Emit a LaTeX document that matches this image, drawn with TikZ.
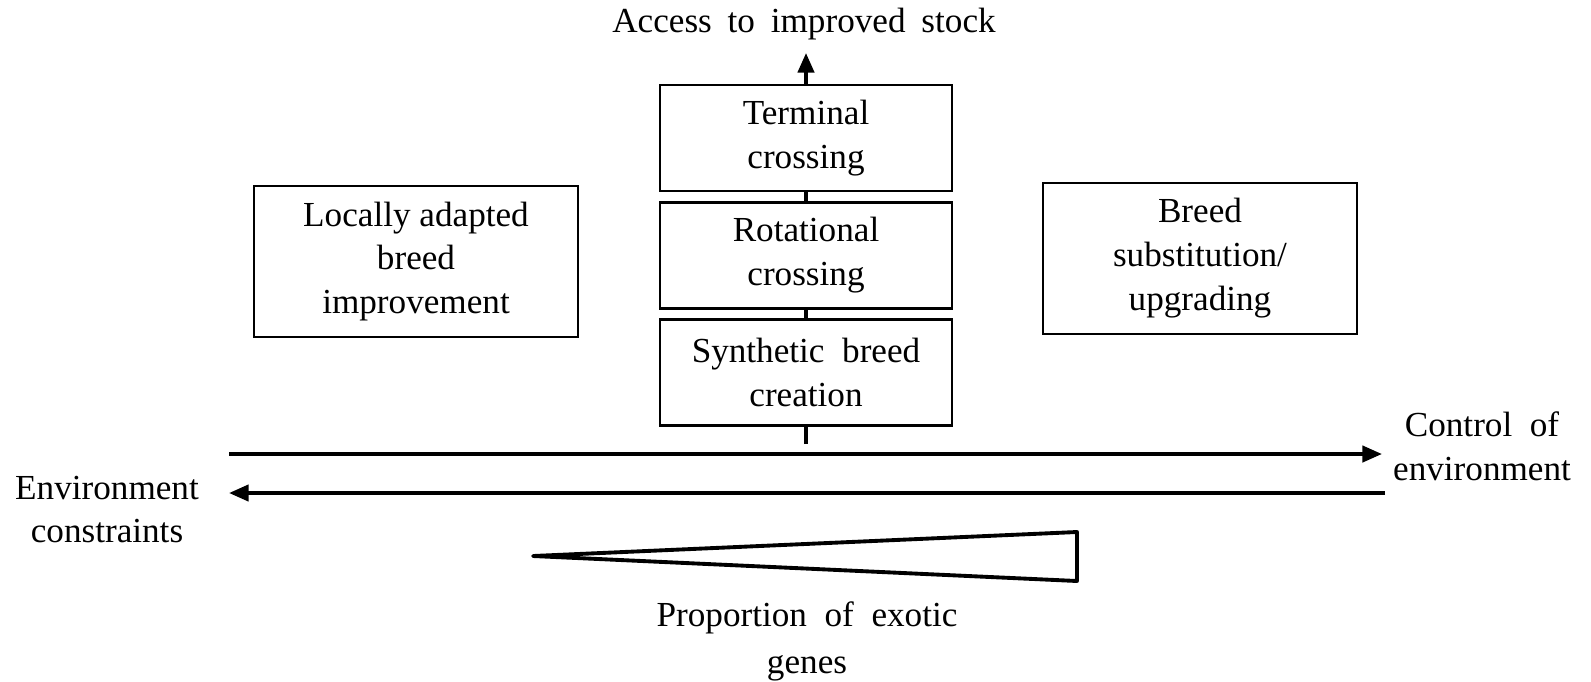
\documentclass[tikz,border=0pt]{standalone}
\usepackage{fontspec}
\setmainfont{Liberation Serif}
\usetikzlibrary{arrows.meta,positioning}
\tikzset{
  stage/.style ={draw,line width=0.6pt,align=center,inner sep=2pt,
                 minimum width=2.91cm,minimum height=1.06cm},
  side/.style  ={draw,line width=0.6pt,align=center,inner sep=2pt,
                 minimum height=1.51cm},
  lbl/.style   ={align=center,inner sep=1pt},
  ar/.style    ={-{Triangle[length=5.6pt,width=4.6pt]},line width=1.1pt},
  stem/.style  ={line width=1.1pt},
}

\begin{document}
\begin{tikzpicture}[x=0.01cm,y=-0.01cm,
  every node/.append style={font=\fontsize{10}{12.5}\selectfont}]
  \useasboundingbox (0,0) rectangle (1591,681);
  % breeding strategies
  \node[stage] (term) at (806,138)   {Terminal\\crossing};
  \node[stage] (rot)  at (806,255.5) {Rotational\\crossing};
  \node[stage] (syn)  at (806,372.5) {Synthetic\ \ breed\\creation};
  \node[side,minimum width=3.24cm] (local) at (416,261.5) {Locally adapted\\breed\\improvement};
  \node[side,minimum width=3.14cm] (subst) at (1200,258.5) {Breed\\substitution/\\upgrading};
  \node[lbl] (access) at (804,24) {Access\hspace{0.45em}to\hspace{0.45em}improved\hspace{0.45em}stock};
  \coordinate (base) at (806,444);
  \draw[stem] (base) -- (syn.south);
  \draw[stem] (syn.north) -- (rot.south);
  \draw[stem] (rot.north) -- (term.south);
  \draw[ar,shorten >=2.5pt] (term.north) -- (term.north |- access.south);
  % environment axis
  \coordinate (ctrlL) at (229,454);  \coordinate (ctrlR) at (1382,454);
  \coordinate (consR) at (1385,493); \coordinate (consL) at (229,493);
  \draw[ar] (ctrlL) -- (ctrlR);
  \draw[ar] (consR) -- (consL);
  \node[lbl] (ctrl) at (1482,446) {Control\ \ of\\environment};
  \node[lbl] (cons) at (107,509.5) {Environment\\constraints};
  % exotic genes wedge
  \coordinate (tip) at (533,556);
  \coordinate (wtop) at (1077,532);
  \coordinate (wbot) at (1077,581);
  \draw[line width=1.1pt,line join=round,line cap=round] (tip) -- (wtop) -- (wbot) -- cycle;
  \node[lbl,font=\fontsize{10}{13.4}\selectfont] (prop) at (807,641) {Proportion\ \ of\ \ exotic\\genes};
\end{tikzpicture}
\end{document}
